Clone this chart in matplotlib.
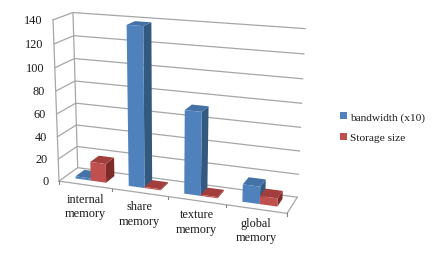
import numpy as np
import matplotlib
matplotlib.use('Agg')
import matplotlib.pyplot as plt
from matplotlib.patches import Polygon, Patch

categories = ['internal\nmemory', 'share\nmemory', 'texture\nmemory', 'global\nmemory']
bandwidth = [2, 138, 72, 15]
storage = [17, 1, 1, 7]
y_ticks = [0, 20, 40, 60, 80, 100, 120, 140]
series_names = ['bandwidth (x10)', 'Storage size']

plt.rcParams['font.family'] = ['Liberation Serif', 'DejaVu Serif']

fig = plt.figure(figsize=(4.36, 2.55), dpi=100)
ax = fig.add_axes([0, 0, 1, 1])
ax.set_xlim(0, 436)
ax.set_ylim(255, 0)
ax.axis('off')

# camera for the fake 3d box: (category, depth, value/100) -> pixel
calib = [
    ((0, 0, 0), (60, 182)), ((0, 0, 1.4), (53, 20)),
    ((0, 1, 0), (77, 169)), ((0, 1, 1.4), (73, 14)),
    ((4, 0, 0), (287, 215)), ((4, 1, 0), (298, 197)),
    ((4, 1, 1.4), (305, 30)), ((1, 0, 0), (112, 189.6)),
    ((2, 0, 0), (168, 197.7)), ((3, 0, 0), (225, 206)),
]
rows = []
rhs = []
for (u, v, w), (px, py) in calib:
    rows.append([u, v, w, 1, 0, 0, 0, 0, -px * u, -px * v, -px * w])
    rows.append([0, 0, 0, 0, u, v, w, 1, -py * u, -py * v, -py * w])
    rhs += [px, py]
cam = np.linalg.lstsq(np.array(rows, float), np.array(rhs, float), rcond=None)[0]
cam = np.append(cam, 1).reshape(3, 4)


def proj(u, v, val):
    x, y, z = cam @ np.array([u, v, val / 100, 1])
    return x / z, y / z


grid_col = '#a6a6a6'
for t in y_ticks:
    pts = [proj(0, 0, t), proj(0, 1, t), proj(4, 1, t)]
    ax.plot(*zip(*pts), color=grid_col, lw=0.9, zorder=1)
    x, y = proj(0, 0, t)
    ax.text(x - 10.5, y, str(t), ha='right', va='center', fontsize=8.8, color='#1a1a1a')
ax.plot(*zip(proj(0, 0, 0), proj(0, 0, 140)), color=grid_col, lw=0.9, zorder=1)
ax.plot(*zip(proj(0, 1, 0), proj(0, 1, 140)), color=grid_col, lw=0.9, zorder=1)
floor = [proj(0, 0, 0), proj(4, 0, 0), proj(4, 1, 0)]
ax.plot(*zip(*floor), color=grid_col, lw=0.9, zorder=1)
for i in range(5):
    x, y = proj(i, 0, 0)
    ax.plot([x, x], [y, y + 2.5], color='#808080', lw=0.8, zorder=1)

colors = [
    {'front': '#4f81bd', 'side': '#34597f', 'top': '#4471a6'},
    {'front': '#c0504d', 'side': '#7e2c2a', 'top': '#a23e3b'},
]
bar_w = 0.29
v0, v1 = 0.3, 0.78


def bar(u0, val, col):
    u1 = u0 + bar_w
    front = [proj(u0, v0, 0), proj(u1, v0, 0), proj(u1, v0, val), proj(u0, v0, val)]
    side = [proj(u1, v0, 0), proj(u1, v1, 0), proj(u1, v1, val), proj(u1, v0, val)]
    top = [proj(u0, v0, val), proj(u1, v0, val), proj(u1, v1, val), proj(u0, v1, val)]
    ax.add_patch(Polygon(side, fc=col['side'], ec='none', zorder=3))
    ax.add_patch(Polygon(top, fc=col['top'], ec='none', zorder=3))
    ax.add_patch(Polygon(front, fc=col['front'], ec='none', zorder=3))


for i in range(len(categories)):
    bar(i + 0.21, bandwidth[i], colors[0])
    bar(i + 0.21 + bar_w, storage[i], colors[1])
    x, y = proj(i + 0.5, 0, 0)
    ax.text(x, y + 21, categories[i], ha='center', va='center', fontsize=8.8,
            linespacing=1.25, color='#1a1a1a')

handles = [Patch(fc=colors[0]['front'], ec='none'), Patch(fc=colors[1]['front'], ec='none')]
ax.legend(handles, series_names, loc='center left', bbox_to_anchor=(337 / 436, 1 - 128 / 255),
          frameon=False, fontsize=8.2, handlelength=0.6, handleheight=0.6,
          handletextpad=0.2, labelspacing=0.98, borderpad=0, borderaxespad=0.3,
          labelcolor='#1a1a1a')

fig.savefig('out.png', dpi=100)
